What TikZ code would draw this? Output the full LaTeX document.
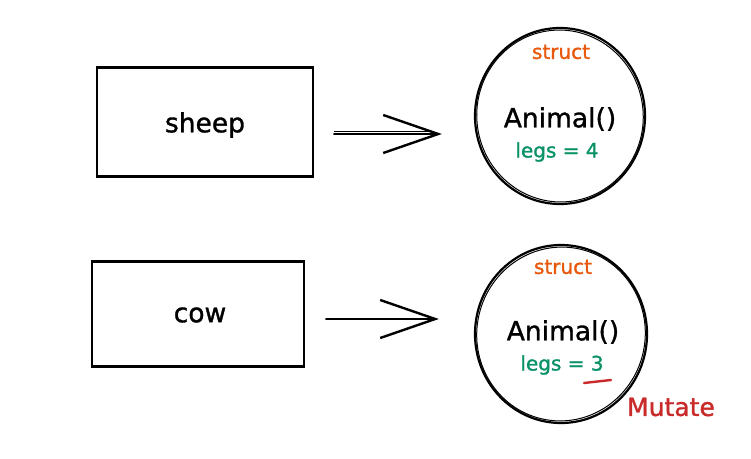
\documentclass[tikz,border=0pt]{standalone}
\usepackage{fontspec}
\setmainfont[FakeBold=1.2,AutoFakeBold=1.2]{DejaVu Sans}
\usetikzlibrary{arrows.meta,shapes.geometric}
\definecolor{exorange}{HTML}{E8590C}
\definecolor{exgreen}{HTML}{099268}
\definecolor{exred}{HTML}{C92A2A}
\begin{document}
\begin{tikzpicture}[x=1pt,y=-1pt,
  box/.style={draw, line width=2.2pt, inner sep=0pt},
  obj/.style={draw, ellipse, line width=2.2pt, inner sep=0pt},
  lbl/.style={font=\fontsize{26.5}{30}\selectfont\bfseries},
  small/.style={font=\fontsize{20}{24}\selectfont\bfseries},
  arr/.style={line width=2.4pt, line cap=round, -{Straight Barb[length=55pt,width=38pt]}}]
\useasboundingbox (0,0) rectangle (751,458);
\fill[white] (0,0) rectangle (751,458);

% boxes
\node[box, minimum width=216pt, minimum height=109pt] (sheep) at (205,122) {};
\node[lbl] (sheeplbl) at (205,125) {sheep};
\node[box, minimum width=212pt, minimum height=105pt] (cow) at (198,314) {};
\node[lbl] (cowlbl) at (200,315) {cow};

% objects
\node[obj, minimum width=170pt, minimum height=176pt] (c1) at (560,116) {};
\draw[line width=1pt, rotate around={8:(560,116)}] (560,116) ellipse (83.2pt and 86pt);
\node[obj, minimum width=172pt, minimum height=178pt] (c2) at (561,334) {};
\draw[line width=1pt, rotate around={-10:(561,334)}] (561,334) ellipse (84.2pt and 87pt);

\node[small, text=exorange] (s1) at (561,52) {struct};
\node[lbl] (a1) at (560,119) {Animal()};
\node[small, text=exgreen] (l1) at (557,152) {legs = 4};

\node[small, text=exorange] (s2) at (563,267) {struct};
\node[lbl] (a2) at (563,332) {Animal()};
\node[small, text=exgreen] (l2) at (562,365) {legs = 3};
\draw[exred, line width=2.4pt, line cap=round] (584,383) -- (611,380);
\node[font=\fontsize{25}{28}\selectfont\bfseries, text=exred] (mut) at (671,407) {Mutate};

% connectors
\draw[arr] ([shift={(20pt,-12pt)}]sheep.east) -- ([shift={(-32pt,-18pt)}]c1.west);
\draw[line width=1.2pt] ([shift={(20pt,-9.5pt)}]sheep.east) -- ([shift={(-40pt,-15.5pt)}]c1.west);
\draw[arr] ([shift={(21pt,-5pt)}]cow.east) -- ([shift={(-35pt,15pt)}]c2.west);
\end{tikzpicture}
\end{document}
